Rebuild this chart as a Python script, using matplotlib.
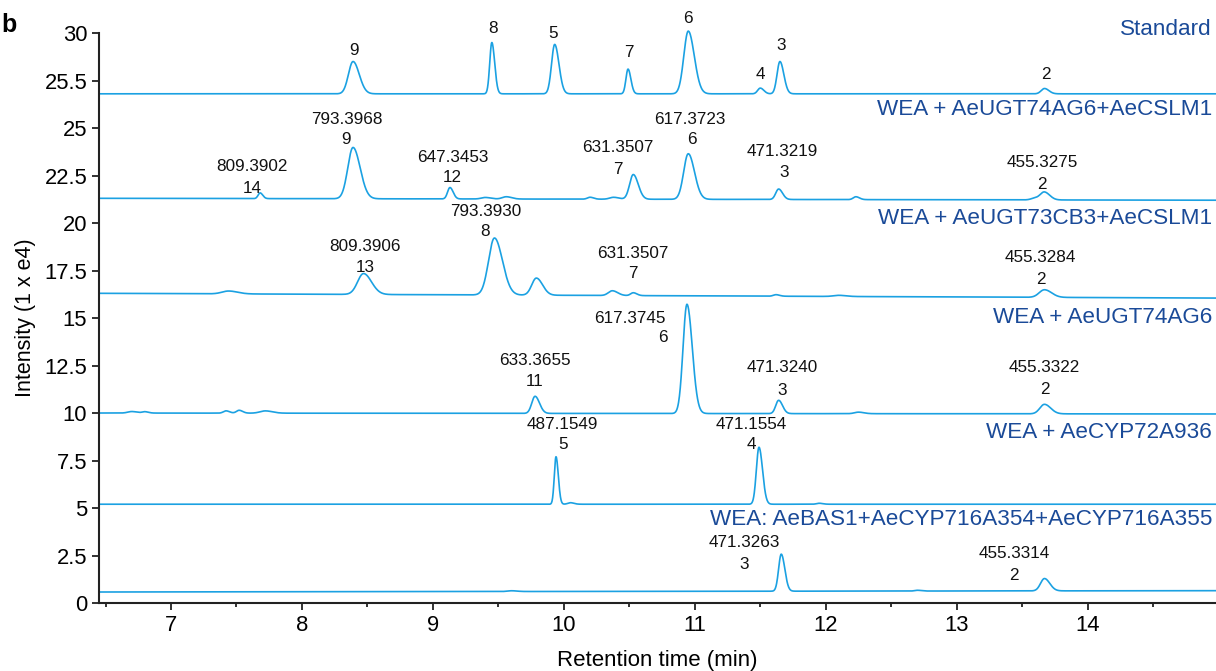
import numpy as np
import matplotlib.pyplot as plt
from matplotlib.ticker import MultipleLocator

plt.rcParams['font.family'] = ['Liberation Sans', 'DejaVu Sans']

LINE = '#1ba1e2'
NAME = '#1a4a98'

# trace names and baselines (1 x e4), baseline at start / end of run
trace_names = ['Standard', 'WEA + AeUGT74AG6+AeCSLM1', 'WEA + AeUGT73CB3+AeCSLM1',
               'WEA + AeUGT74AG6', 'WEA + AeCYP72A936',
               'WEA: AeBAS1+AeCYP716A354+AeCYP716A355']
base_start = [26.8, 21.3, 16.3, 10.0, 5.2, 0.58]
base_end = [26.8, 21.2, 16.05, 9.95, 5.2, 0.65]
name_y = [30.16, 25.95, 20.26, 15.05, 8.95, 4.37]

# peaks: retention time, height, width
std_rt = [8.39, 9.45, 9.93, 10.49, 10.95, 11.50, 11.65, 13.67]
std_h = [1.7, 2.7, 2.6, 1.3, 3.3, 0.3, 1.7, 0.28]
std_w = [0.035, 0.016, 0.024, 0.016, 0.034, 0.02, 0.022, 0.025]

t2_rt = [7.68, 8.39, 9.13, 9.40, 9.56, 10.20, 10.38, 10.53, 10.95, 11.64, 12.23, 13.60, 13.67]
t2_h = [0.3, 2.7, 0.6, 0.08, 0.12, 0.1, 0.1, 1.3, 2.4, 0.55, 0.15, 0.1, 0.4]
t2_w = [0.015, 0.04, 0.018, 0.03, 0.03, 0.02, 0.03, 0.028, 0.035, 0.022, 0.02, 0.03, 0.03]

t3_rt = [7.44, 8.47, 9.47, 9.79, 10.37, 10.53, 11.62, 12.10, 13.67]
t3_h = [0.15, 1.1, 3.0, 0.9, 0.25, 0.15, 0.08, 0.06, 0.4]
t3_w = [0.05, 0.045, 0.045, 0.035, 0.03, 0.02, 0.02, 0.04, 0.04]

t4_rt = [6.70, 6.80, 7.42, 7.52, 7.72, 9.78, 10.94, 11.64, 12.25, 13.67]
t4_h = [0.08, 0.07, 0.12, 0.15, 0.12, 0.9, 5.75, 0.7, 0.08, 0.5]
t4_w = [0.03, 0.02, 0.02, 0.02, 0.04, 0.025, 0.03, 0.022, 0.03, 0.035]

t5_rt = [9.94, 10.05, 11.49, 11.95]
t5_h = [2.5, 0.08, 3.0, 0.05]
t5_w = [0.013, 0.02, 0.02, 0.02]

t6_rt = [9.60, 11.66, 12.70, 13.67]
t6_h = [0.04, 1.95, 0.04, 0.65]
t6_w = [0.03, 0.02, 0.02, 0.03]

peaks = [(std_rt, std_h, std_w), (t2_rt, t2_h, t2_w), (t3_rt, t3_h, t3_w),
         (t4_rt, t4_h, t4_w), (t5_rt, t5_h, t5_w), (t6_rt, t6_h, t6_w)]

# peak annotations: x, y, text
ann_x = [8.40, 9.46, 9.92, 10.50, 10.95, 11.50, 11.66, 13.68,
         7.62, 7.62, 8.34, 8.34, 9.15, 9.15, 10.41, 10.41, 10.96, 10.98, 11.67, 11.68, 13.65, 13.65,
         8.48, 8.48, 9.40, 9.40, 10.53, 10.53, 13.64, 13.64,
         10.50, 10.76, 9.78, 9.78, 11.67, 11.67, 13.67, 13.67,
         9.99, 9.99, 11.43, 11.43,
         11.38, 11.38, 13.44, 13.44]
ann_y = [29.1, 30.26, 30.0, 29.0, 30.74, 27.84, 29.32, 27.84,
         22.95, 21.84, 25.47, 24.37, 23.47, 22.37, 23.95, 22.84, 25.47, 24.37, 23.79, 22.68, 23.16, 22.05,
         18.79, 17.68, 20.63, 19.53, 18.42, 17.32, 18.16, 17.05,
         15.0, 14.0, 12.79, 11.68, 12.37, 11.21, 12.37, 11.26,
         9.42, 8.32, 9.42, 8.32,
         3.16, 2.05, 2.63, 1.47]
ann_txt = ['9', '8', '5', '7', '6', '4', '3', '2',
           '809.3902', '14', '793.3968', '9', '647.3453', '12', '631.3507', '7', '617.3723', '6',
           '471.3219', '3', '455.3275', '2',
           '809.3906', '13', '793.3930', '8', '631.3507', '7', '455.3284', '2',
           '617.3745', '6', '633.3655', '11', '471.3240', '3', '455.3322', '2',
           '487.1549', '5', '471.1554', '4',
           '471.3263', '3', '455.3314', '2']

x_min, x_max = 6.45, 14.98
rt = np.linspace(x_min, x_max, 4000)

fig = plt.figure(figsize=(12.16, 6.71), dpi=100)
ax = fig.add_axes([0.0814, 0.1013, 0.9186, 0.8495])

for i in range(len(trace_names)):
    p_rt, p_h, p_w = peaks[i]
    y = base_start[i] + (base_end[i] - base_start[i]) * (rt - x_min) / (x_max - x_min)
    for c, h, w in zip(p_rt, p_h, p_w):
        # slight tailing on the right side of each peak
        s = np.where(rt < c, w, w * 1.35)
        y = y + h * np.exp(-0.5 * ((rt - c) / s) ** 2)
    ax.plot(rt, y, color=LINE, lw=1.2, clip_on=False)
    ax.text(14.95, name_y[i], trace_names[i], color=NAME, fontsize=16.2,
            ha='right', va='center')

for x, y, t in zip(ann_x, ann_y, ann_txt):
    ax.text(x, y, t, fontsize=12.3, ha='center', va='center', color='#111111')

ax.set_xlim(x_min, x_max)
ax.set_ylim(0, 30)
ax.xaxis.set_major_locator(MultipleLocator(1))
ax.xaxis.set_minor_locator(MultipleLocator(0.5))
yt = np.arange(0, 30.1, 2.5)
ax.set_yticks(yt)
ax.set_yticklabels(['0', '2.5', '5', '7.5', '10', '12.5', '15', '17.5', '20', '22.5', '25', '25.5', '30'])
ax.tick_params(axis='both', labelsize=15.8, width=1.3, length=5, color='#222222')
ax.tick_params(axis='x', which='minor', width=1.3, length=3, color='#222222')
for s in ['top', 'right']:
    ax.spines[s].set_visible(False)
for s in ['left', 'bottom']:
    ax.spines[s].set_linewidth(1.5)
    ax.spines[s].set_color('#222222')

ax.set_xlabel('Retention time (min)', fontsize=16, labelpad=10)
ax.set_ylabel('Intensity (1 x e4)', fontsize=15.5, labelpad=6)

fig.text(0.001, 0.962, 'b', fontsize=18, fontweight='bold', va='center')

fig.savefig('out.png', dpi=100)
